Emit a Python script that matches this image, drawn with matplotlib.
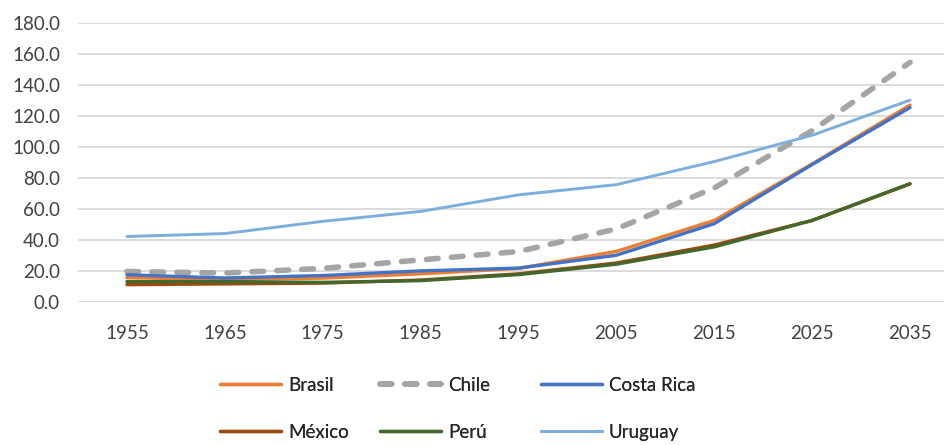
import matplotlib
matplotlib.use("Agg")
import matplotlib.pyplot as plt

# Data series (index values by year)
years = ["1955", "1965", "1975", "1985", "1995", "2005", "2015", "2025", "2035"]
brasil = [15.5, 14.5, 15.2, 18.0, 21.5, 32.5, 52.5, 89.0, 127.0]
chile = [19.5, 18.5, 21.5, 27.0, 32.4, 47.0, 73.5, 110.5, 154.6]
costa_rica = [17.4, 15.3, 16.9, 19.9, 21.7, 30.0, 50.4, 88.6, 125.4]
mexico = [11.0, 11.5, 12.0, 14.0, 18.0, 25.0, 36.6, 52.5, 76.0]
peru = [13.0, 13.0, 12.5, 13.6, 17.5, 24.2, 35.4, 52.5, 76.3]
uruguay = [42.1, 44.0, 51.9, 58.3, 69.0, 75.6, 90.5, 107.5, 130.2]
y_ticks = [0, 20, 40, 60, 80, 100, 120, 140, 160, 180]

plt.rcParams["font.family"] = ["Lato", "DejaVu Sans"]

W, H = 945, 445
fig = plt.figure(figsize=(W / 100, H / 100), dpi=100)
left, right, top, bottom = 78, 959, 23, 301.7
ax = fig.add_axes([left / W, 1 - bottom / H, (right - left) / W, (bottom - top) / H])

x = list(range(len(years)))
lw = 2.4
h_br, = ax.plot(x, brasil, color="#ED7D31", lw=lw, solid_capstyle="round", zorder=3, label="Brasil")
h_ch, = ax.plot(x, chile, color="#A5A5A5", lw=4.0, dashes=(2.1, 2.4), dash_capstyle="round",
                zorder=3, label="Chile")
h_cr, = ax.plot(x, costa_rica, color="#4472C4", lw=lw, solid_capstyle="round", zorder=3,
                label="Costa Rica")
h_mx, = ax.plot(x, mexico, color="#9E480E", lw=lw, solid_capstyle="round", zorder=3, label="México")
h_pe, = ax.plot(x, peru, color="#43682B", lw=lw, solid_capstyle="round", zorder=3, label="Perú")
h_uy, = ax.plot(x, uruguay, color="#7CAFDD", lw=2.1, solid_capstyle="round", zorder=3,
                label="Uruguay")

ax.set_xlim(-0.5, len(years) - 0.5)
ax.set_ylim(0, 180)
ax.set_yticks(y_ticks)
ax.set_yticklabels([f"{v:.1f}" for v in y_ticks])
ax.set_xticks(x)
ax.set_xticklabels(years)
ax.tick_params(axis="both", length=0, labelsize=13.5, colors="#404040")
ax.tick_params(axis="y", pad=13)
ax.tick_params(axis="x", pad=17)
for s in ax.spines.values():
    s.set_visible(False)
ax.yaxis.grid(True, color="#D9D9D9", lw=1.3, zorder=0)
ax.set_axisbelow(True)

# Legend: three columns, two rows (row-major order)
columns = [([h_br, h_mx], 220), ([h_ch, h_pe], 380), ([h_cr, h_uy], 541)]
for handles, xpix in columns:
    leg = fig.legend(handles=handles, labels=[h.get_label() for h in handles],
                     loc="upper left", bbox_to_anchor=(xpix / W, 1 - 377 / H),
                     ncol=1, frameon=False, fontsize=13.5, handlelength=3.25,
                     handletextpad=0.37, labelspacing=1.58, borderpad=0,
                     borderaxespad=0)
    for t in leg.get_texts():
        t.set_color("#262626")
    fig.add_artist(leg)

fig.savefig("out.png", dpi=100)
